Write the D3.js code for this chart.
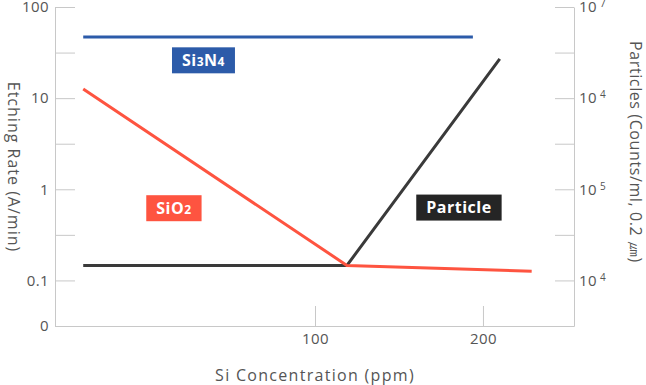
<!DOCTYPE html>
<html>
<head>
<meta charset="utf-8">
<script src="https://cdn.jsdelivr.net/npm/d3@7"></script>
<style>
    body { margin: 0; background: #fff; }
    svg { font-family: "Open Sans", sans-serif; }
</style>
</head>
<body>
<div class="chart_container"></div>
<script>
// data (x in ppm, y in A/min on the log scale)
var si3n4_x = [-38, 194];
var si3n4_y = [47, 47];
var sio2_x = [-38, 119, 229];
var sio2_y = [12.6, 0.146, 0.126];
var particle_x = [-38, 119, 210];
var particle_y = [0.146, 0.146, 27];

var x_ticks = [100, 200];
var y_ticks = [Math.pow(10, -1.5), 0.1, Math.pow(10, -0.5), 1, Math.pow(10, 0.5), 10, Math.pow(10, 1.5), 100];
var y_labels = ["0", "0.1", "", "1", "", "10", "", "100"];
var right_labels = [["", ""], ["10", "4"], ["", ""], ["10", "5"], ["", ""], ["10", "4"], ["", ""], ["10", "7"]];

var series_labels = [
    {name: "Si", sub: "3", name2: "N", sub2: "4", x: 33.6, y: 26, color: "#2c5ba9"},
    {name: "SiO", sub: "2", name2: "", sub2: "", x: 16, y: 0.62, color: "#fe5440"},
    {name: "Particle", sub: "", name2: "", sub2: "", x: 185.7, y: 0.63, color: "#252525"}
];

var w = 646, h = 385;
var p_left = 55, p_right = 574, p_top = 7, p_bottom = 326;

var svg = d3.select('.chart_container')
    .append('svg')
    .attr('width', w)
    .attr('height', h);

var x_scale = d3.scaleLinear()
    .domain([-54.8, 254.2])
    .range([p_left, p_right]);
var y_scale = d3.scaleLog()
    .domain([Math.pow(10, -1.5), 100])
    .range([p_bottom, p_top]);

var axis_color = "#c8c8c8";
var text_color = "#555";

// left axis
var y_axis = d3.axisLeft(y_scale)
    .tickValues(y_ticks)
    .tickSize(-20)
    .tickSizeOuter(0)
    .tickPadding(6)
    .tickFormat((d, i) => y_labels[i]);
var gy = svg.append('g')
    .attr('transform', 'translate(' + p_left + ',0)')
    .call(y_axis);

// right axis
var r_axis = d3.axisRight(y_scale)
    .tickValues(y_ticks)
    .tickSize(-19)
    .tickSizeOuter(0)
    .tickPadding(5)
    .tickFormat("");
var gr = svg.append('g')
    .attr('transform', 'translate(' + p_right + ',0)')
    .call(r_axis);

// bottom axis
var x_axis = d3.axisBottom(x_scale)
    .tickValues(x_ticks)
    .tickSize(-20)
    .tickSizeOuter(0)
    .tickPadding(7);
var gx = svg.append('g')
    .attr('transform', 'translate(0,' + p_bottom + ')')
    .call(x_axis);

svg.selectAll('.domain, .tick line').attr('stroke', axis_color);
svg.selectAll('.tick text')
    .attr('fill', text_color)
    .style('font-size', '15px')
    .style('letter-spacing', '0.4px')
    .style('font-family', '"Open Sans", sans-serif');

// superscript labels on the right axis
gr.selectAll('.tick text').each(function(d, i){
    var t = d3.select(this);
    t.append('tspan').text(right_labels[i][0]);
    t.append('tspan').attr('dx', 3).attr('dy', -5).style('font-size', '10px').text(right_labels[i][1]);
});

// axis titles
svg.append('text')
    .attr('transform', 'translate(12,167) rotate(90)')
    .attr('text-anchor', 'middle')
    .attr('dominant-baseline', 'middle')
    .attr('fill', text_color)
    .style('font-size', '16px')
    .style('letter-spacing', '1px')
    .text('Etching Rate (A/min)');
svg.append('text')
    .attr('transform', 'translate(634,152) rotate(90)')
    .attr('text-anchor', 'middle')
    .attr('dominant-baseline', 'middle')
    .attr('fill', text_color)
    .style('font-size', '16px')
    .style('letter-spacing', '0.6px')
    .text('Particles (Counts/ml, 0.2 ㎛)');
svg.append('text')
    .attr('x', 315)
    .attr('y', 381)
    .attr('text-anchor', 'middle')
    .attr('fill', text_color)
    .style('font-size', '16px')
    .style('letter-spacing', '1.3px')
    .text('Si Concentration (ppm)');

// lines
var line = d3.line()
    .x(d => x_scale(d[0]))
    .y(d => y_scale(d[1]));
function draw(xs, ys, color){
    svg.append('path')
        .attr('d', line(d3.zip(xs, ys)))
        .attr('fill', 'none')
        .attr('stroke', color)
        .attr('stroke-width', 3);
}
draw(si3n4_x, si3n4_y, "#2c5ba9");
draw(particle_x, particle_y, "#3a3a3a");
draw(sio2_x, sio2_y, "#fe5440");

// series labels
series_labels.forEach(function(l){
    var g = svg.append('g')
        .attr('transform', 'translate(' + x_scale(l.x) + ',' + y_scale(l.y) + ')');
    var rect = g.append('rect').attr('fill', l.color);
    var t = g.append('text')
        .attr('text-anchor', 'middle')
        .attr('dy', '0.36em')
        .attr('fill', '#fff')
        .style('font-size', '16px')
        .style('font-weight', 'bold')
        .style('letter-spacing', '0.5px');
    t.append('tspan').text(l.name);
    if (l.sub) t.append('tspan').style('font-size', '12px').text(l.sub);
    if (l.name2) t.append('tspan').text(l.name2);
    if (l.sub2) t.append('tspan').style('font-size', '12px').text(l.sub2);
    var bb = t.node().getBBox();
    rect.attr('x', bb.x - 10).attr('y', -13).attr('width', bb.width + 20).attr('height', 26);
});
</script>
</body>
</html>
